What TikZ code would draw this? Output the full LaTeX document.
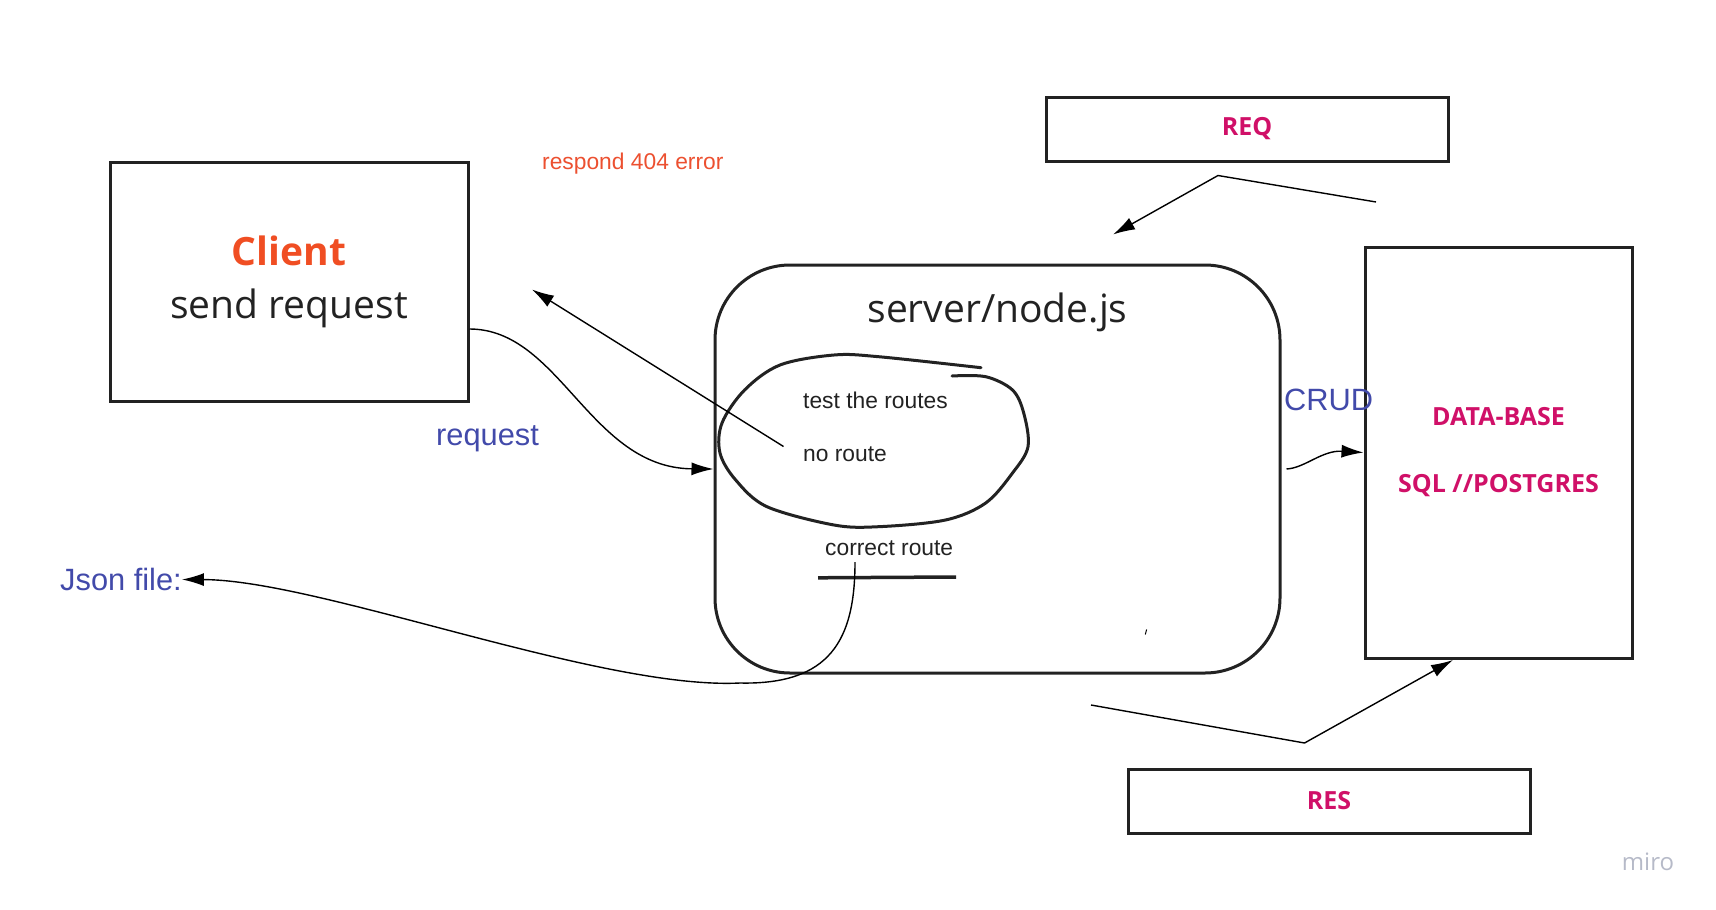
\documentclass[tikz,border=0pt]{standalone}
\usepackage{fontspec}
\setmainfont{Open Sans}
\newfontfamily\arialfont{Liberation Sans}
\usepackage{tikz}
\usetikzlibrary{positioning, arrows.meta}
\definecolor{clientred}{RGB}{240,78,35}
\definecolor{notered}{RGB}{236,80,48}
\definecolor{flowblue}{RGB}{66,74,170}
\definecolor{dbpink}{RGB}{208,16,104}
\definecolor{ink}{RGB}{34,34,34}
\definecolor{markgray}{RGB}{182,186,200}
\tikzset{
	every text node part/.style= {
		align=center
	},
	box/.style= {
		rectangle,
		draw=ink,
		line width=3pt,
		inner sep=0pt
	},
	note/.style= {
		font=\arialfont\fontsize{22.8}{26}\selectfont,
		text=ink,
		inner sep=0pt
	},
	flow/.style= {
		font=\arialfont\fontsize{30.8}{34}\selectfont,
		text=flowblue,
		inner sep=0pt
	},
	dbword/.style= {
		font=\bfseries\fontsize{25}{67}\selectfont,
		text=dbpink
	},
	arrow/.style= {
		draw=black,
		line width=1.4pt,
		-{Latex[length=22pt, width=13pt]}
	}
}

\begin{document}
\begin{tikzpicture}[x=1pt, y=-1pt]
	\useasboundingbox (0,0) rectangle (1716,910);
	
	\node (client)[box, minimum width=358pt, minimum height=239pt, font=\fontsize{39}{53}\selectfont, text=ink] at (289,281.5) {{\bfseries\color{clientred}Client}\\send request};
	\node (server)[box, rounded corners=75pt, minimum width=565pt, minimum height=408pt] at (997.5,469) {};
	\node (servertitle)[below=29pt of server.north, inner sep=0pt, font=\fontsize{39}{46}\selectfont, text=ink]{server/node.js};
	\node (database)[box, dbword, minimum width=267pt, minimum height=411pt] at (1498.5,452.5) {DATA-BASE\\SQL //POSTGRES};
	\node (req)[box, dbword, minimum width=402pt, minimum height=64pt] at (1247,129) {REQ};
	\node (res)[box, dbword, minimum width=402pt, minimum height=64pt] at (1329,801) {RES};
	
	\node (respond)[note, text=notered, anchor=base west] at (542,169.3) {respond 404 error};
	\node (request)[flow, anchor=base west] at (436,445) {request};
	\node (jsonfile)[flow, anchor=base west] at (60,590.5) {Json file:};
	\node (crud)[flow, anchor=base west] at (1284,410) {CRUD};
	
	\node (testroutes)[note, anchor=base west] at (803,408.3) {test the routes};
	\node (noroute)[note, anchor=base west] at (803,461.7) {no route};
	\node (correctroute)[note, anchor=base west] at (825,555.7) {correct route};
	
	% routes loop
	\draw[ink, line width=3pt, line cap=round] plot[smooth, tension=0.55] coordinates {(981,367.7) (878.6,356.7) (834,355) (780,365) (744.6,390) (722,423) (720,453) (735.7,480) (767,506.7) (834,525) (878.6,526.7) (945.5,520) (985.7,503) (1012.5,473) (1028,446.7) (1023.7,413) (1012.5,390) (985.7,376.7) (952,376)};
	\draw[ink, line width=3.5pt] (818,577.8) -- (956,577);
	\draw[line width=1pt] (1145.3,634.5) -- (1146.6,629.5);
	
	\coordinate (errtail) at (783.5,446.5);
	\coordinate (errtip) at (532,289.5);
	\coordinate (jsontail) at (855,562);
	\coordinate (reqtail) at (1376,202);
	\coordinate (reqbend) at (1218,175.5);
	\coordinate (reqtip) at (1113,234.5);
	\coordinate (restail) at (1091,705);
	\coordinate (resbend) at (1304.5,743);
	\coordinate (restip) at (1453,660);
	
	\draw[arrow] ([yshift=-47.5pt]client.east) .. controls (560,329) and (590,468) .. (server.west);
	\draw[arrow] (errtail) -- (errtip);
	\draw[arrow] (jsontail) .. controls (855,640) and (830,685) .. (740,683) .. controls (600,690) and (320,580) .. (jsonfile.east);
	\draw[arrow] ([xshift=5pt]server.east) .. controls (1305,468) and (1322,450) .. (database.west);
	\draw[arrow] (reqtail) -- (reqbend) -- (reqtip);
	\draw[arrow] (restail) -- (resbend) -- (restip);
	
	\node (miro)[text=markgray, font=\fontsize{24}{28}\selectfont, inner sep=0pt] at (1648,862) {miro};
\end{tikzpicture}
\end{document}
